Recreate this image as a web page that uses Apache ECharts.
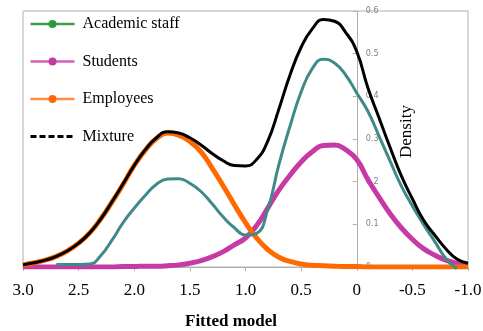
<!DOCTYPE html>
<html><head><meta charset="utf-8">
<script src="https://cdn.jsdelivr.net/npm/echarts@6/dist/echarts.min.js"></script>
<style>html,body{margin:0;padding:0;background:#fff}#c{width:483px;height:331px}</style>
</head><body><div id="c"></div>
<script>
// x positions (fitted model), 3.0 down to -1.0 step 0.1
const xs = [3.0,2.9,2.8,2.7,2.6,2.5,2.4,2.3,2.2,2.1,2.0,1.9,1.8,1.7,1.6,1.5,1.4,1.3,1.2,1.1,1.0,0.9,0.8,0.7,0.6,0.5,0.4,0.3,0.2,0.1,0.0,-0.1,-0.2,-0.3,-0.4,-0.5,-0.6,-0.7,-0.8,-0.9,-1.0];
const academicStaff = [null,null,null,0.006,0.006,0.006,0.007,0.027,0.063,0.104,0.138,0.168,0.194,0.206,0.207,0.196,0.177,0.148,0.117,0.092,0.075,0.079,0.135,0.240,0.330,0.410,0.465,0.487,0.478,0.450,0.408,0.365,0.307,0.248,0.190,0.143,0.100,0.060,0.020,-0.004,null];
const students = [0,0,0,0,0,0,0,0,0,0.001,0.001,0.002,0.002,0.003,0.005,0.009,0.015,0.024,0.036,0.052,0.068,0.097,0.138,0.180,0.215,0.246,0.270,0.285,0.286,0.275,0.252,0.205,0.164,0.125,0.092,0.065,0.043,0.028,0.016,0.009,0.005];
const employees = [0.005,0.010,0.016,0.025,0.038,0.056,0.080,0.113,0.152,0.194,0.238,0.274,0.301,0.314,0.309,0.294,0.270,0.232,0.190,0.146,0.104,0.068,0.041,0.023,0.013,0.007,0.004,0.003,0.002,0.001,0.001,0,0,0,0,0,0,0,0,0,0];
const mixture = [0.005,0.010,0.016,0.025,0.038,0.056,0.080,0.113,0.153,0.195,0.238,0.275,0.303,0.317,0.314,0.303,0.286,0.266,0.249,0.238,0.237,0.252,0.295,0.370,0.450,0.515,0.558,0.580,0.576,0.550,0.505,0.420,0.350,0.280,0.214,0.160,0.110,0.075,0.043,0.019,0.009];
const xTicks = {min:-1, max:3, step:0.5};
const yTicks = {min:0, max:0.6, step:0.1};

const pair = arr => xs.map((x,i)=>[x, arr[i]]);
const serif = '"Liberation Serif","Times New Roman",serif';
const W = 483, G = {left:23,right:15,top:11,bottom:64};
const gridW = W - G.left - G.right;
// y axis sits at x = 0: distance from right edge of grid (x axis is inverted)
const yOffset = -gridW * (0 - xTicks.min) / (xTicks.max - xTicks.min);
const chart = echarts.init(document.getElementById('c'), null, {renderer:'canvas'});
const lineBase = {type:'line',smooth:0.5,showSymbol:false,symbol:'circle'};
chart.setOption({
  animation:false,
  grid:{left:G.left,right:G.right,top:G.top,bottom:G.bottom,show:true,borderColor:'#b0b0b0',borderWidth:1,containLabel:false,outerBoundsMode:'none'},
  legend:{
    orient:'vertical', left:29, top:16, padding:0, itemWidth:44, itemHeight:10, itemGap:21.5,
    textStyle:{fontFamily:serif,fontSize:16,color:'#000',padding:[0,0,0,3]},
    data:[
      {name:'Academic staff', itemStyle:{color:'#2e9a3c'}, lineStyle:{color:'#3aa046',width:2.5}},
      {name:'Students', itemStyle:{color:'#c63aa6'}, lineStyle:{color:'#d160b8',width:2.5}},
      {name:'Employees', itemStyle:{color:'#ff6a10'}, lineStyle:{color:'#ff8a40',width:2.5}},
      {name:'Mixture', itemStyle:{color:'rgba(0,0,0,0)',borderWidth:0}, lineStyle:{color:'#000',width:3,type:[6,3]}}
    ]
  },
  xAxis:{type:'value',inverse:true,min:xTicks.min,max:xTicks.max,interval:xTicks.step,
    axisLine:{onZero:false,lineStyle:{color:'#b0b0b0'}},
    axisTick:{show:true,length:4,lineStyle:{color:'#b0b0b0'}},
    splitLine:{show:false},
    axisLabel:{fontFamily:serif,fontSize:17,color:'#000',margin:15,
      formatter:v=> v===0 ? '0' : v.toFixed(1)}
  },
  yAxis:{type:'value',position:'right',offset:yOffset,min:yTicks.min,max:yTicks.max,interval:yTicks.step,
    axisLine:{show:true,onZero:false,lineStyle:{color:'#b0b0b0'}},
    axisTick:{show:true,inside:true,length:4,lineStyle:{color:'#b0b0b0'}},
    splitLine:{show:false},
    axisLabel:{fontFamily:'"DejaVu Sans",sans-serif',fontSize:8,color:'#808080',margin:9,
      formatter:v=> v===0 ? '0' : v.toFixed(1)}
  },
  graphic:[
    {type:'text',left:185,top:313,style:{text:'Fitted model',font:'bold 17px '+serif,fill:'#000'}},
    {type:'text',x:398,y:158,rotation:Math.PI/2,style:{text:'Density',font:'17px '+serif,fill:'#000'}}
  ],
  series:[
    Object.assign({name:'Students',data:pair(students),color:'#c63aa6',lineStyle:{color:'#c63aa6',width:5},z:2},lineBase),
    Object.assign({name:'Employees',data:pair(employees),color:'#ff6a10',lineStyle:{color:'#ff6a00',width:5},z:3},lineBase),
    Object.assign({name:'Academic staff',data:pair(academicStaff),clip:false,color:'#2e9a3c',lineStyle:{color:'#3f8a88',width:3},z:4},lineBase),
    Object.assign({name:'Mixture',data:pair(mixture),color:'#000',lineStyle:{color:'#000',width:3},z:5},lineBase,{symbol:'none'})
  ]
});
</script></body></html>
